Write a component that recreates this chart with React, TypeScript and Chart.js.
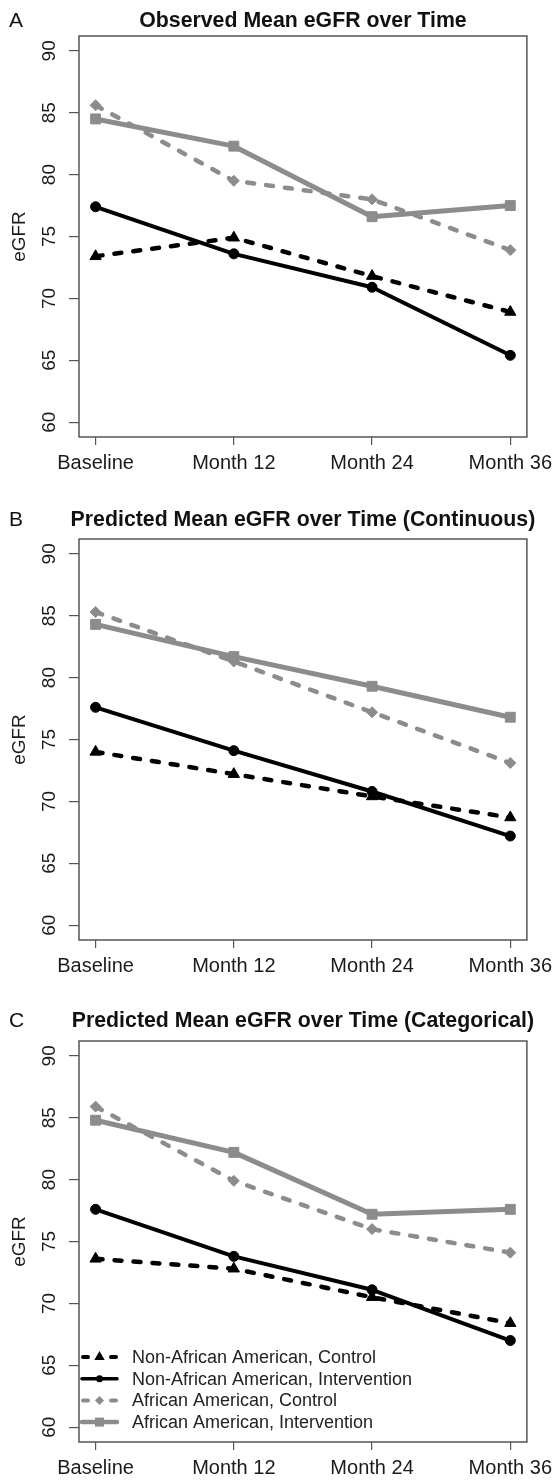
import React, { useEffect, useRef } from 'react';
import { Chart, registerables } from 'chart.js';

Chart.register(...registerables);

const FONT = '"Liberation Sans", Arial, Helvetica, sans-serif';
Chart.defaults.font.family = FONT;

// ---------- data ----------
const timepoints = [1, 2, 3, 4];
const timeLabels = ['Baseline', 'Month 12', 'Month 24', 'Month 36'];
const yTicks = [60, 65, 70, 75, 80, 85, 90];
const seriesNames = [
  'Non-African American, Control',
  'Non-African American, Intervention',
  'African American, Control',
  'African American, Intervention',
];

// Panel A – observed
const observedNonAAControl = [73.4, 74.9, 71.8, 68.9];
const observedNonAAIntervention = [77.4, 73.6, 70.9, 65.4];
const observedAAControl = [85.6, 79.5, 78.0, 73.9];
const observedAAIntervention = [84.5, 82.3, 76.6, 77.5];

// Panel B – predicted (continuous)
const contNonAAControl = [74.0, 72.2, 70.4, 68.7];
const contNonAAIntervention = [77.6, 74.1, 70.8, 67.2];
const contAAControl = [85.3, 81.3, 77.2, 73.1];
const contAAIntervention = [84.3, 81.7, 79.3, 76.8];

// Panel C – predicted (categorical)
const catNonAAControl = [73.6, 72.8, 70.5, 68.4];
const catNonAAIntervention = [77.6, 73.8, 71.1, 67.0];
const catAAControl = [85.9, 79.9, 76.0, 74.1];
const catAAIntervention = [84.8, 82.2, 77.2, 77.6];

const panelTitles = [
  'Observed Mean eGFR over Time',
  'Predicted Mean eGFR over Time (Continuous)',
  'Predicted Mean eGFR over Time (Categorical)',
];
const panelLetters = ['A', 'B', 'C'];
const yAxisTitle = 'eGFR';

// ---------- styles ----------
const GRAY = '#8c8c8c';
const STYLES = [
  { color: '#000000', dashed: true, point: 'triangle', r: 6.5, lw: 4.5 },
  { color: '#000000', dashed: false, point: 'circle', r: 5, lw: 4 },
  { color: GRAY, dashed: true, point: 'rectRot', r: 5.5, lw: 4.5 },
  { color: GRAY, dashed: false, point: 'rect', r: 7, lw: 5 },
];

const W = 559;
const H = 475;

const decorPlugin = {
  id: 'decor',
  afterDraw(chart: any, _args: any, opts: any) {
    const { ctx, chartArea: ca, scales } = chart;
    const ys = scales.y;
    ctx.save();
    // box
    ctx.strokeStyle = '#555555';
    ctx.lineWidth = 1.5;
    ctx.setLineDash([]);
    ctx.strokeRect(ca.left, ca.top, ca.right - ca.left, ca.bottom - ca.top);

    // y tick labels (rotated, as in R)
    ctx.fillStyle = '#1a1a1a';
    ctx.font = `19px ${FONT}`;
    ctx.textAlign = 'center';
    ctx.textBaseline = 'middle';
    yTicks.forEach((v) => {
      const py = ys.getPixelForValue(v);
      ctx.save();
      ctx.translate(50, py);
      ctx.rotate(-Math.PI / 2);
      ctx.fillText(String(v), 0, 0);
      ctx.restore();
    });

    // y axis title
    ctx.save();
    ctx.translate(20, (ca.top + ca.bottom) / 2);
    ctx.rotate(-Math.PI / 2);
    ctx.fillText(yAxisTitle, 0, 0);
    ctx.restore();

    // title + letter
    ctx.fillStyle = '#111111';
    ctx.textBaseline = 'alphabetic';
    ctx.font = `bold 21.3px ${FONT}`;
    ctx.textAlign = 'center';
    ctx.fillText(opts.title, (ca.left + ca.right) / 2, opts.titleY);
    ctx.font = `21px ${FONT}`;
    ctx.textAlign = 'left';
    ctx.fillText(opts.letter, 9, opts.titleY);

    // legend
    if (opts.legend) {
      const x1 = ca.left + 3;
      const x2 = ca.left + 38;
      const cx = (x1 + x2) / 2;
      STYLES.forEach((s, i) => {
        const y = ca.bottom - 85 + i * 21.7;
        ctx.strokeStyle = s.color;
        ctx.fillStyle = s.color;
        ctx.lineCap = 'round';
        ctx.lineWidth = s.lw - 0.5;
        ctx.beginPath();
        if (s.dashed) {
          ctx.moveTo(x1 + 1, y);
          ctx.lineTo(x1 + 6, y);
          ctx.moveTo(x2 - 6, y);
          ctx.lineTo(x2 - 1, y);
        } else {
          ctx.moveTo(x1, y);
          ctx.lineTo(x2, y);
        }
        ctx.stroke();
        ctx.beginPath();
        if (s.point === 'triangle') {
          const r = 6;
          ctx.moveTo(cx, y - r);
          ctx.lineTo(cx - r * 0.866, y + r / 2);
          ctx.lineTo(cx + r * 0.866, y + r / 2);
          ctx.closePath();
        } else if (s.point === 'circle') {
          ctx.arc(cx, y, 3.5, 0, Math.PI * 2);
        } else if (s.point === 'rectRot') {
          const r = 4.5;
          ctx.moveTo(cx, y - r);
          ctx.lineTo(cx + r, y);
          ctx.lineTo(cx, y + r);
          ctx.lineTo(cx - r, y);
          ctx.closePath();
        } else {
          ctx.rect(cx - 4.5, y - 4.5, 9, 9);
        }
        ctx.fill();
        ctx.fillStyle = '#222222';
        ctx.font = `18px ${FONT}`;
        ctx.textAlign = 'left';
        ctx.textBaseline = 'middle';
        ctx.fillText(seriesNames[i], ca.left + 53, y + 1);
      });
    }
    ctx.restore();
  },
};

type PanelProps = {
  top: number;
  series: number[][];
  index: number;
  titleY: number;
  legend: boolean;
};

function Panel({ top, series, index, titleY, legend }: PanelProps) {
  const ref = useRef<HTMLCanvasElement>(null);
  useEffect(() => {
    if (!ref.current) return;
    const datasets = series.map((vals, i) => {
      const s = STYLES[i];
      return {
        label: seriesNames[i],
        data: vals.map((v, j) => ({ x: timepoints[j], y: v })),
        borderColor: s.color,
        backgroundColor: s.color,
        borderWidth: s.lw,
        borderDash: s.dashed ? [7, 12] : [],
        borderCapStyle: 'round',
        borderJoinStyle: 'round',
        pointStyle: s.point,
        pointRadius: s.r,
        pointBorderWidth: 1,
        pointBorderColor: s.color,
        pointBackgroundColor: s.color,
        tension: 0,
        fill: false,
        order: 3 - i,
      };
    });
    const chart = new Chart(ref.current, {
      type: 'line',
      data: { datasets } as any,
      options: {
        responsive: false,
        animation: false,
        devicePixelRatio: 1,
        layout: { padding: { left: 0, right: 27, top: 36, bottom: 0 } },
        plugins: {
          legend: { display: false },
          tooltip: { enabled: false },
          decor: {
            title: panelTitles[index],
            letter: panelLetters[index],
            titleY,
            legend,
          },
        } as any,
        scales: {
          x: {
            type: 'linear',
            min: 0.88,
            max: 4.12,
            afterBuildTicks: (s: any) => {
              s.ticks = timepoints.map((v) => ({ value: v }));
            },
            afterFit: (s: any) => {
              s.height = 38;
            },
            grid: {
              drawOnChartArea: false,
              drawTicks: true,
              tickLength: 8,
              color: '#555555',
              lineWidth: 1.2,
            },
            border: { display: false },
            ticks: {
              autoSkip: false,
              maxRotation: 0,
              minRotation: 0,
              padding: 6,
              color: '#1a1a1a',
              font: { family: FONT, size: 20 },
              callback: (v: any) => {
                const k = timepoints.indexOf(Number(v));
                return k >= 0 ? timeLabels[k] : '';
              },
            },
          },
          y: {
            type: 'linear',
            min: 58.8,
            max: 91.2,
            afterBuildTicks: (s: any) => {
              s.ticks = yTicks.map((v) => ({ value: v }));
            },
            afterFit: (s: any) => {
              s.width = 79;
            },
            grid: {
              drawOnChartArea: false,
              drawTicks: true,
              tickLength: 10,
              color: '#555555',
              lineWidth: 1.2,
            },
            border: { display: false },
            ticks: { display: false },
          },
        } as any,
      },
      plugins: [decorPlugin as any],
    });
    return () => chart.destroy();
  }, []);
  return (
    <div style={{ position: 'absolute', left: 0, top, width: W, height: H }}>
      <canvas ref={ref} width={W} height={H} style={{ display: 'block', width: W, height: H }} />
    </div>
  );
}

export default function App() {
  return (
    <div
      style={{
        position: 'absolute',
        left: 0,
        top: 0,
        width: W,
        height: 1480,
        background: '#ffffff',
        overflow: 'hidden',
      }}
    >
      <Panel
        top={0}
        index={0}
        titleY={27}
        legend={false}
        series={[observedNonAAControl, observedNonAAIntervention, observedAAControl, observedAAIntervention]}
      />
      <Panel
        top={503}
        index={1}
        titleY={23}
        legend={false}
        series={[contNonAAControl, contNonAAIntervention, contAAControl, contAAIntervention]}
      />
      <Panel
        top={1005}
        index={2}
        titleY={22}
        legend={true}
        series={[catNonAAControl, catNonAAIntervention, catAAControl, catAAIntervention]}
      />
    </div>
  );
}
